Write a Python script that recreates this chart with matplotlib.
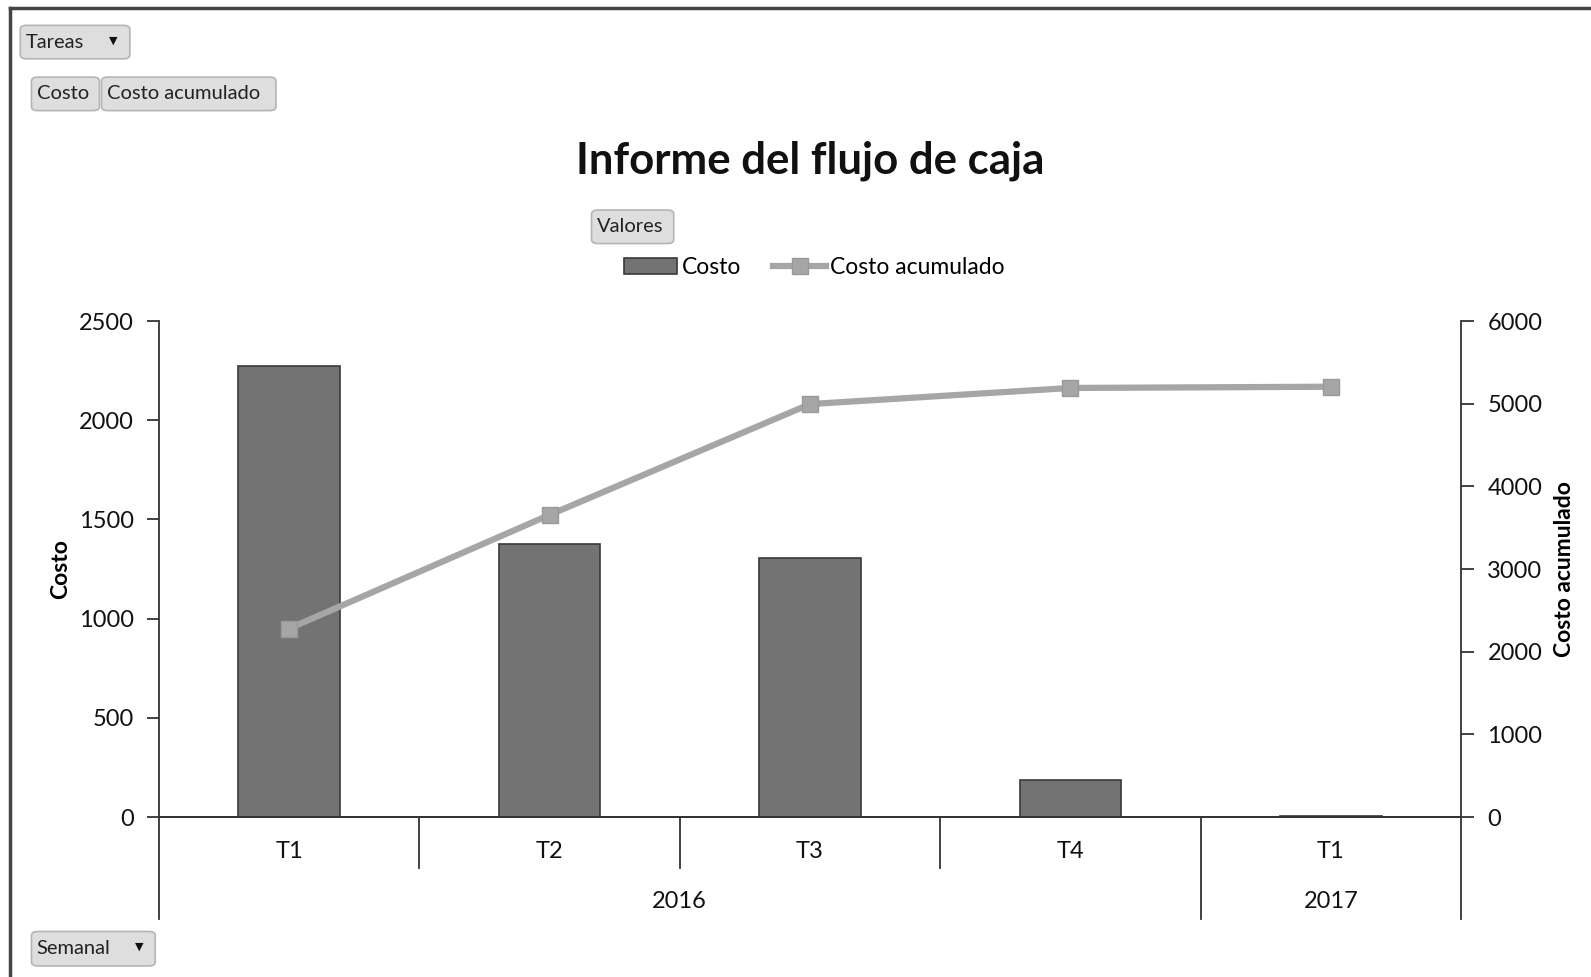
import matplotlib.pyplot as plt
from matplotlib.patches import FancyBboxPatch, Rectangle
from matplotlib.lines import Line2D
import matplotlib.transforms as mtransforms

plt.rcParams['font.family'] = ['Lato', 'DejaVu Sans']

# data
trimestres = ['T1', 'T2', 'T3', 'T4', 'T1']
anios = ['2016', '2017']
anio_pos = [1.5, 4]
costo = [2275, 1375, 1305, 185, 3]
costo_acumulado = [2280, 3655, 4995, 5190, 5205]

W, H = 1591, 977
S = 1591 / 1568  # reference was viewed shrunk


def fx(x):
    return x * S / W


def fy(y):
    return 1 - y * S / H


fig = plt.figure(figsize=(W / 100, H / 100), dpi=100)

# outer frame of the chart area
fig.add_artist(Line2D([fx(10), fx(10)], [fy(8), 0], color='#444444', lw=2.5))
fig.add_artist(Line2D([fx(10), 1], [fy(8), fy(8)], color='#444444', lw=2.5))


def boton(x0, y0, x1, y1, texto, flecha=False):
    p = FancyBboxPatch((fx(x0), fy(y1)), fx(x1) - fx(x0), fy(y0) - fy(y1),
                       boxstyle='round,pad=0,rounding_size=0.004',
                       transform=fig.transFigure, facecolor='#dedede',
                       edgecolor='#b5b5b5', lw=1.2)
    fig.add_artist(p)
    fig.text(fx(x0 + 5), (fy(y0) + fy(y1)) / 2, texto, fontsize=14.5,
             va='center', ha='left', color='#222222')
    if flecha:
        fig.text(fx(x1 - 16), (fy(y0) + fy(y1)) / 2 + 0.002, '\u25bc', fontsize=8,
                 va='center', ha='center', color='#111111', family='DejaVu Sans')


boton(20, 25, 128, 58, 'Tareas', flecha=True)
boton(31, 76, 98, 109, 'Costo')
boton(100, 76, 272, 109, 'Costo acumulado')
boton(583, 207, 664, 240, 'Valores')
boton(31, 918, 153, 952, 'Semanal', flecha=True)

fig.text(fx(798), fy(158), 'Informe del flujo de caja', fontsize=31.5,
         fontweight='bold', ha='center', va='center', color='#111111')

ax = fig.add_axes([159 / W, 1 - 817 / H, (1461 - 159) / W, (817 - 321) / H])
ax2 = ax.twinx()

x = list(range(len(trimestres)))
ax.bar(x, costo, width=0.39, color='#737373', edgecolor='#3a3a3a', lw=1.2, zorder=2)
ax2.plot(x, costo_acumulado, color='#a6a6a6', lw=4.5, marker='s', ms=12,
         markerfacecolor='#a6a6a6', markeredgecolor='#999999', zorder=3)

ax.set_xlim(-0.5, len(trimestres) - 0.5)
ax.set_ylim(0, 2500)
ax.set_yticks(range(0, 2501, 500))
ax2.set_ylim(0, 6000)
ax2.set_yticks(range(0, 6001, 1000))

for a in (ax, ax2):
    a.spines['top'].set_visible(False)
    for s in ('left', 'right', 'bottom'):
        a.spines[s].set_color('#333333')
        a.spines[s].set_linewidth(1.3)
    a.tick_params(axis='y', labelsize=17, length=9, width=1.3, color='#333333',
                  labelcolor='#111111')
ax.tick_params(axis='y', pad=9)
ax2.tick_params(axis='y', pad=10)
ax.spines['right'].set_visible(False)
ax2.spines['left'].set_visible(False)

ax.set_xticks(x)
ax.set_xticklabels(trimestres)
ax.tick_params(axis='x', length=0, labelsize=17, pad=17, labelcolor='#111111')

ax.set_ylabel('Costo', fontsize=16.5, fontweight='bold', labelpad=6)
ax2.set_ylabel('Costo acumulado', fontsize=16.5, fontweight='bold', labelpad=8)

# category separators under the axis
tr = mtransforms.blended_transform_factory(ax.transData, ax.transAxes)
alto = 817 - 321
for xv in [0.5, 1.5, 2.5]:
    ax.plot([xv, xv], [0, -51 / alto], transform=tr, color='#333333', lw=1.3,
            clip_on=False)
for xv in [-0.5, 3.5, 4.5]:
    ax.plot([xv, xv], [0, -102 / alto], transform=tr, color='#333333', lw=1.3,
            clip_on=False)
for xp, lab in zip(anio_pos, anios):
    ax.text(xp, -85 / alto, lab, transform=tr, fontsize=17, ha='center',
            va='center', color='#111111')

# legend
h_bar = Rectangle((0, 0), 1, 1, facecolor='#737373', edgecolor='#3a3a3a', lw=1.2)
h_line = Line2D([], [], color='#a6a6a6', lw=4.5, marker='s', ms=11,
                markerfacecolor='#a6a6a6', markeredgecolor='#999999')
fig.legend([h_bar, h_line], ['Costo', 'Costo acumulado'], ncol=2, frameon=False,
           loc='center', bbox_to_anchor=(fx(803), fy(264)), fontsize=16.5,
           handlelength=2.3, handletextpad=0.2, columnspacing=1.4)

fig.savefig('out.png', dpi=100)
